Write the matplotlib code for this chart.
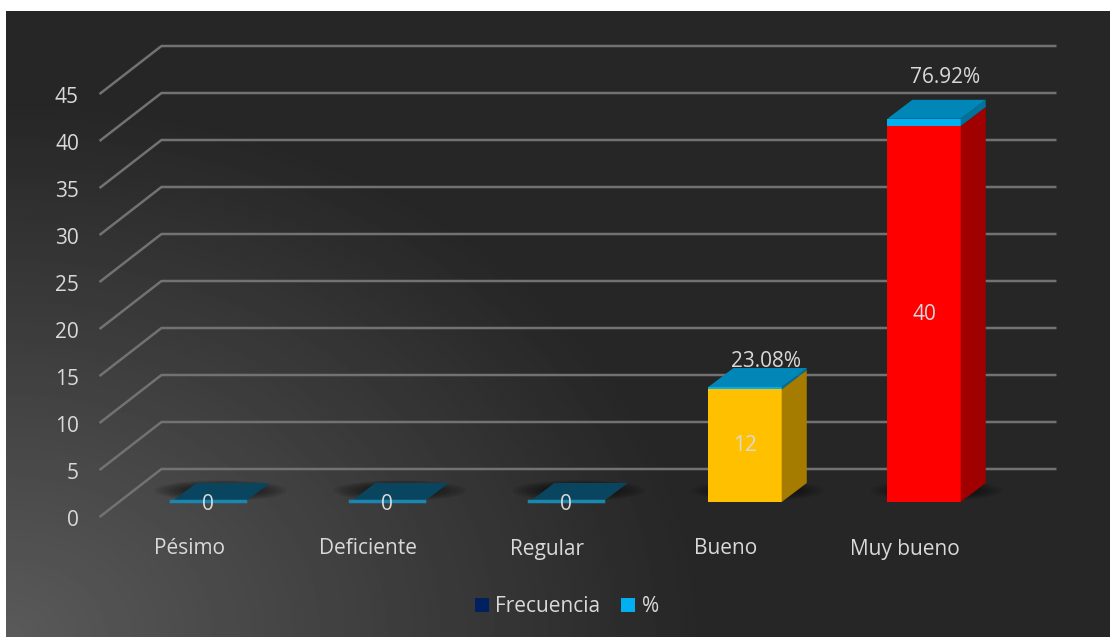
import numpy as np
import matplotlib
matplotlib.use('Agg')
import matplotlib.pyplot as plt
from matplotlib.patches import Polygon, Rectangle, Ellipse, Patch

# Data
categories = ['Pésimo', 'Deficiente', 'Regular', 'Bueno', 'Muy bueno']
frecuencia = [0, 0, 0, 12, 40]
porcentaje = [0.0, 0.0, 0.0, 23.08, 76.92]
yticks = [0, 5, 10, 15, 20, 25, 30, 35, 40, 45]

# styles
bar_front = ['#ffc000', '#ffc000', '#ffc000', '#ffc000', '#ff0000']
bar_side = ['#a67c00', '#a67c00', '#a67c00', '#a67c00', '#a00000']
pct_front, pct_side, pct_top = '#00b0f0', '#00739c', '#0087b8'
text_col = '#d9d9d9'
grid_col = '#727272'
pct_pad = [0, 0, 0, 0.65, 2.4]

plt.rcParams['font.family'] = ['Open Sans', 'DejaVu Sans']

fig = plt.figure(figsize=(11.1, 6.39), dpi=100, facecolor='white')

# gradient background (lighter towards the bottom-left corner)
bg = fig.add_axes([6 / 1110, 2 / 639, 1104 / 1110, 626 / 639])
h, w = 313, 552
yy, xx = np.mgrid[0:h, 0:w]
r = np.sqrt((xx * 2.0) ** 2 + ((h - 1 - yy) * 2.0 * 1.3) ** 2)
val = 38 + 52 * np.clip(1 - r / 700, 0, 1)
bg.imshow(val, cmap='gray', vmin=0, vmax=255, aspect='auto', interpolation='bilinear')
bg.axis('off')

ax = fig.add_axes([0, 0, 1, 1])
ax.set_facecolor('none')
ax.set_xlim(-208 / 179, (1110 - 208) / 179)
ax.set_ylim(-(639 - 502) / 9.4, 502 / 9.4)
ax.axis('off')

# depth offsets (x in category units, y in value units)
fdx, fdy = -0.106, -1.6     # front edge of the floor/wall
bdx, bdy = 0.24, 3.51       # back wall
dx, dy = 0.14, 2.02         # bar depth
bw = 0.41
n = len(categories)
x0, x1 = -0.5, n - 0.5

# walls / gridlines
for v in yticks:
    ax.plot([x0 + fdx, x0 + bdx, x1 + bdx], [v + fdy, v + bdy, v + bdy],
            color=grid_col, lw=1.8, zorder=1, solid_capstyle='butt')
    ax.text(x0 + fdx - 0.115, v + fdy - 0.35, str(v), ha='right', va='center',
            color=text_col, fontsize=15)

for i, (f, p) in enumerate(zip(frecuencia, porcentaje)):
    left, right = i - bw / 2, i + bw / 2
    total = f + p / 100

    # soft shadow
    for k in range(12):
        s = 1 - k / 12
        ax.add_patch(Ellipse((i + 0.07, dy * 0.6), 0.62 * s + 0.12, 1.9 * s + 0.3,
                             color='black', alpha=0.08, lw=0, zorder=2))

    if f == 0:
        ax.add_patch(Polygon([(left, 0), (right, 0), (right + dx, dy), (left + dx, dy)],
                             closed=True, facecolor='#0a4560', edgecolor='none', zorder=3))
        ax.plot([left, right], [0.15, 0.15], color='#1b86b0', lw=2.5, zorder=4)
        ax.text(i, -0.3, '0', ha='center', va='center', color=text_col, fontsize=15, zorder=10)
        continue

    # Frecuencia segment
    ax.add_patch(Rectangle((left, 0), bw, f, facecolor=bar_front[i], edgecolor='none', zorder=4))
    ax.add_patch(Polygon([(right, 0), (right + dx, dy), (right + dx, f + dy), (right, f)],
                         closed=True, facecolor=bar_side[i], edgecolor='none', zorder=4))
    # % segment
    ax.add_patch(Rectangle((left, f), bw, p / 100, facecolor=pct_front, edgecolor='none', zorder=5))
    ax.add_patch(Polygon([(right, f), (right + dx, f + dy), (right + dx, total + dy), (right, total)],
                         closed=True, facecolor=pct_side, edgecolor='none', zorder=5))
    ax.add_patch(Polygon([(left, total), (right, total), (right + dx, total + dy), (left + dx, total + dy)],
                         closed=True, facecolor=pct_top, edgecolor='none', zorder=5))

    ax.text(i, f / 2, str(f), ha='center', va='center', color=text_col, fontsize=15, zorder=10)
    ax.text(i + 0.12, total + dy + pct_pad[i], f'{p:.2f}%', ha='center', va='center',
            color=text_col, fontsize=15, zorder=10)

for i, c in enumerate(categories):
    ax.text(i + fdx, fdy - 3.4, c, ha='center', va='center', color=text_col, fontsize=15)

handles = [Patch(facecolor='#002060', label='Frecuencia'), Patch(facecolor='#00b0f0', label='%')]
fig.legend(handles=handles, loc='center', bbox_to_anchor=(567 / 1110, 1 - 607 / 639), ncol=2,
           frameon=False, fontsize=15, labelcolor=text_col, handlelength=0.67, handleheight=0.67,
           handletextpad=0.3, columnspacing=1.0, borderpad=0)

fig.savefig('out.png', dpi=100, facecolor='white')
